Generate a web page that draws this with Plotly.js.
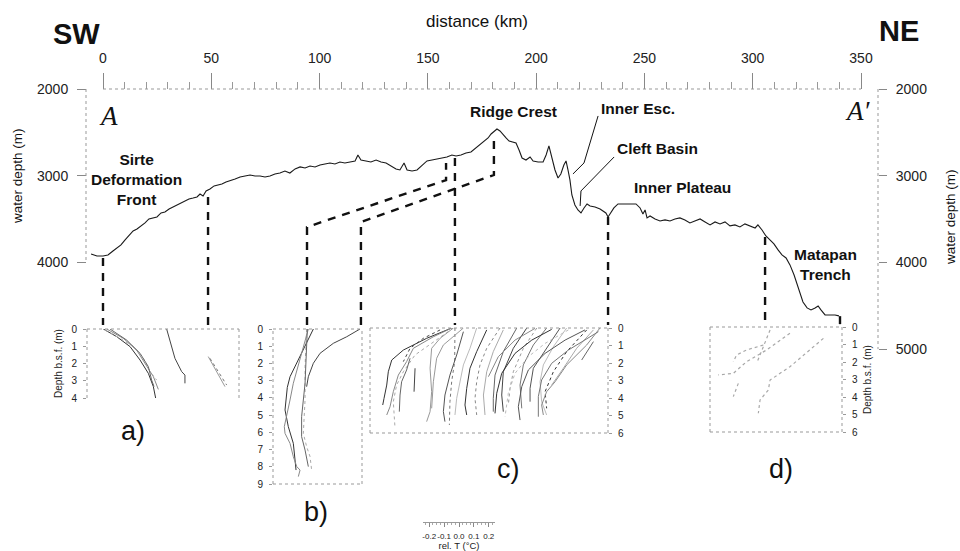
<!DOCTYPE html>
<html><head><meta charset="utf-8">
<script src="https://cdn.plot.ly/plotly-3.0.1.min.js"></script>
<style>html,body{margin:0;padding:0;background:#fff}#chart{width:960px;height:551px}</style>
</head><body><div id="chart"></div>
<script>
// ================= DATA =================
// Bathymetric profile A-A' : distance (km) vs water depth (m)
const distanceKm = [
 -5.5,-2.8,0,2.3,4.6,6.5,8.3,10.2,12.0,13.9,
 15.7,17.5,19.4,21.2,23.1,24.9,26.8,28.6,30.5,32.3,
 34.2,36.0,37.9,39.7,41.6,43.4,44.8,46.2,47.6,49.4,
 51.3,53.1,54.9,56.8,58.6,61.0,63.3,65.6,67.9,70.2,
 72.5,74.8,77.1,79.4,81.7,84.0,86.3,88.7,91.0,93.3,
 95.6,97.9,100.2,102.5,104.8,107.1,109.4,111.7,114.0,116.4,
 117.7,119.1,121.4,123.7,126.1,128.4,130.7,133.0,135.3,137.1,
 139.0,140.4,142.7,145.0,147.3,149.6,151.9,154.2,156.5,158.8,
 161.1,163.0,165.3,167.6,169.9,172.2,174.1,175.9,177.8,179.2,
 180.5,181.9,183.3,184.7,186.1,187.5,188.9,190.7,192.1,193.5,
 195.3,197.2,198.6,200.9,203.2,204.6,205.9,207.3,208.7,210.1,
 211.4,212.8,213.8,214.7,215.6,216.5,217.9,219.3,220.7,222.1,
 223.5,224.9,227.2,229.5,231.3,232.2,233.2,234.5,235.9,237.8,
 240.6,243.3,246.1,248.0,249.3,250.3,251.2,252.6,254.9,257.2,
 259.5,261.8,264.1,266.4,268.7,271.0,273.4,275.7,278.0,280.3,
 282.6,284.9,287.2,289.5,291.8,294.1,296.4,298.7,301.1,302.4,
 304.3,306.1,308.0,309.8,311.7,313.5,315.4,317.2,319.1,320.5,
 321.9,323.2,325.1,326.9,328.8,330.2,331.5,333.4,335.7,338.0,
 339.8];
const waterDepthM = [
 3903,3926,3926,3914,3868,3833,3799,3741,3695,3637,
 3614,3580,3545,3499,3487,3476,3430,3418,3384,3361,
 3338,3315,3292,3268,3257,3245,3211,3234,3176,3153,
 3118,3107,3095,3072,3061,3038,3015,3003,2992,3003,
 3003,3015,3003,2980,2969,2946,2969,2922,2899,2911,
 2888,2899,2876,2865,2853,2865,2842,2853,2842,2830,
 2761,2819,2830,2842,2819,2842,2853,2888,2922,2934,
 2853,2934,2945,2934,2876,2830,2819,2807,2796,2784,
 2761,2773,2761,2738,2726,2680,2646,2611,2565,2519,
 2496,2461,2484,2530,2565,2600,2611,2623,2703,2796,
 2819,2784,2830,2842,2842,2761,2657,2796,2934,3026,
 2980,2876,2830,2934,3049,3222,3337,3395,3430,3372,
 3326,3349,3361,3384,3418,3430,3476,3430,3372,3326,
 3326,3326,3326,3372,3441,3395,3487,3464,3499,3522,
 3510,3522,3499,3487,3510,3545,3522,3499,3533,3568,
 3533,3556,3533,3579,3568,3591,3556,3579,3603,3568,
 3626,3695,3741,3787,3856,3914,3949,4029,4145,4260,
 4375,4456,4525,4548,4525,4502,4548,4606,4606,4606,
 4617];

const distanceTicks = [0,50,100,150,200,250,300,350];
const distanceMinorTicks = [10,20,30,40,60,70,80,90,110,120,130,140,160,170,180,190,210,220,230,240,260,270,280,290,310,320,330,340];
const depthTicksLeft = [2000,3000,4000];
const depthTicksRight = [2000,3000,4000,5000];

// Dashed connectors from the profile to the heat-flow insets (km, m)
const connectorKm = [
 [0,0],[48.5,48.5],[94.2,94.2,158.4,158.4],[119.1,119.1,180.5,180.5],
 [162.5,162.5],[233.2,233.2],[305.7,305.7],[340.3,340.3]];
const connectorDepthM = [
 [3949,4722],[3245,4722],[4722,3592,3050,2853],[4722,3534,2992,2554],
 [2796,4722],[3476,4722],[3707,4699],[4620,4722]];

// Feature labels
const featureLabels = ['Sirte<br>Deformation<br>Front','Ridge Crest','Inner Esc.','Cleft Basin','Inner Plateau','Matapan<br>Trench'];
const leaderKm = [[228.6,222.1,217.0],[236.0,220.7,220.3]];
const leaderDepthM = [[2311,2853,2980],[2784,3176,3349]];

// Temperature-depth profiles (rel. T in degC, depth below sea floor in m)
const panelA_T = [
 [0.114,0.207,0.301,0.371,0.429,0.464,0.480],
 [0.138,0.254,0.347,0.417,0.464,0.499],
 [0.126,0.231,0.324,0.394,0.441,0.487],
 [0.161,0.277,0.371,0.429,0.452,0.469],
 [0.557,0.580,0.615,0.662,0.685,0.685],
 [0.848,0.907,0.965],
 [0.860,0.930,0.977]];
const panelA_z = [
 [0,0.44,1.02,1.80,2.57,3.34,4.0],
 [0,0.54,1.22,2.18,2.76,3.50],
 [0.06,0.54,1.02,1.70,2.47,2.96],
 [0,0.64,1.41,2.18,2.96,3.34],
 [0,0.64,1.70,2.47,2.67,3.15],
 [1.60,2.47,3.34],
 [1.70,2.67,3.25]];

const panelB_T = [
 [0.282,0.212,0.119,0.100,0.084,0.107,0.142,0.154,0.161],
 [0.247,0.200,0.142,0.119,0.096,0.079,0.084,0.119,0.142,0.166,0.189,0.177],
 [0.235,0.224,0.224,0.212,0.235,0.259,0.270],
 [0.240,0.224,0.200,0.200,0.224,0.247],
 [0.608,0.515,0.422,0.329,0.282,0.247,0.235]];
const panelB_z = [
 [0,1.22,2.77,3.39,4.70,5.67,6.64,7.61,8.19],
 [0,1.41,3.15,4.12,5.09,5.67,6.06,6.64,7.41,7.99,8.19,8.57],
 [0,2.19,4.12,6.06,6.83,7.41,8.19],
 [0,3.15,5.09,6.25,7.03,7.99],
 [0,0.45,0.83,1.41,1.99,2.77,3.35]];

const panelC_T = [
 [0.571,0.396,0.233,0.152,0.128,0.117,0.098,0.089],
 [0.571,0.443,0.303,0.256,0.198,0.163,0.140,0.117],
 [0.583,0.466,0.315,0.233,0.186,0.163,0.175],
 [0.280,0.256,0.221,0.210,0.205],
 [0.315,0.308],
 [0.583,0.490,0.431,0.420,0.431,0.420,0.396],
 [0.594,0.592,0.571,0.559,0.555],
 [0.653,0.606,0.559,0.524,0.513,0.524],
 [0.746,0.699,0.653,0.629,0.606,0.594],
 [0.816,0.746,0.699,0.676,0.664,0.676],
 [0.909,0.816,0.769,0.746,0.734,0.746],
 [0.932,0.862,0.816,0.793,0.804],
 [1.026,0.932,0.874,0.862,0.862],
 [1.096,1.002,0.932,0.921,0.932],
 [1.166,1.072,1.002,0.979,0.967],
 [1.235,1.142,1.072,1.049,1.061],
 [1.329,1.235,1.142,1.119,1.119],
 [1.375,1.282,1.212,1.189,1.200,1.235],
 [1.515,1.375,1.282,1.224,1.235],
 [1.608,1.515,1.375,1.294,1.235,1.200,1.212],
 [1.562,1.445,1.352,1.270],
 [1.562,1.515,1.480],
 [0.490,0.373,0.280,0.233],
 [0.653,0.513,0.466,0.443,0.431],
 [1.597,1.503,1.387,1.270,1.200,1.177,1.177],
 [1.503,1.364,1.224,1.107,1.061,1.037,1.049],
 [1.387,1.224,1.107,1.014,0.967,0.944],
 [1.270,1.131,1.014,0.921,0.886,0.874],
 [1.154,1.014,0.897,0.828]];
const panelC_z = [
 [0,0.59,1.26,1.83,2.50,3.26,4.02,4.40],
 [0,0.50,1.16,1.92,2.69,3.64,4.50,4.97],
 [0,0.69,1.54,2.50,3.26,4.21,5.73],
 [1.73,2.40,3.07,3.83,4.78],
 [2.30,3.64],
 [0,0.59,1.16,2.30,3.64,4.78,5.35],
 [0,1.92,3.07,4.21,5.54],
 [0.21,1.54,2.69,3.83,4.78,5.35],
 [0,1.16,2.11,3.07,4.02,4.97],
 [0.11,1.35,2.30,3.45,4.40,4.97],
 [0,1.16,2.11,3.07,4.02,4.97],
 [0.11,1.35,2.50,3.83,4.97],
 [0,1.35,2.69,4.02,4.78],
 [0,1.16,2.50,3.83,4.78],
 [0,1.16,2.50,3.45,4.40],
 [0,0.97,2.11,3.26,4.59],
 [0,1.16,2.30,3.45,4.21],
 [0,1.07,2.11,3.07,4.21,4.97],
 [0.11,1.35,2.50,3.64,4.59],
 [0,0.97,2.11,3.07,3.64,4.40,4.97],
 [0.11,1.16,2.30,3.26],
 [0.78,1.35,1.83],
 [0.11,0.59,1.16,1.92],
 [0,0.97,1.73,3.07,4.59],
 [0.21,0.69,1.26,2.02,2.97,3.92,5.07],
 [0.11,0.69,1.45,2.40,3.35,4.50,5.26],
 [0.11,0.88,1.64,2.59,3.73,5.07],
 [0.08,0.69,1.45,2.59,3.73,4.88],
 [0.02,0.69,1.64,2.78]];

const panelD_T = [
 [0.793,0.559,0.420,0.408,0.350,0.338],
 [0.559,0.396,0.256,0.163,0.058],
 [0.373,0.256,0.186,0.163],
 [0.420,0.326],
 [0.198,0.163]];
const panelD_z = [
 [0.65,2.27,3.03,3.60,4.17,4.93],
 [0.36,1.31,1.98,2.65,2.74],
 [1.03,1.31,1.60,1.98],
 [0.17,2.08],
 [3.22,3.98]];

const scaleTicks = [-0.2,-0.1,0,0.1,0.2];
const scaleTickText = ['-0.2','-0.1','0.0','0.1','0.2'];

// ================= STYLE / LAYOUT =================
const W = 960, H = 551;
const PX = x => x / W, PY = y => 1 - y / H;
const FONT = 'Liberation Sans, Arial, sans-serif';
const NARROW = 'Liberation Sans Narrow, Arial Narrow, sans-serif';
const greys = ['#333','#888','#aaa','#666','#444','#999','#777','#555','#bbb'];

const traces = [];
traces.push({x: distanceKm, y: waterDepthM, xaxis:'x', yaxis:'y', mode:'lines',
  line:{color:'#1a1a1a', width:1.1}, hoverinfo:'skip'});
connectorKm.forEach((k,i) => traces.push({x:k, y:connectorDepthM[i], xaxis:'x', yaxis:'y', mode:'lines',
  line:{color:'#111', width:2.4, dash:'8px,7px'}, hoverinfo:'skip'}));
leaderKm.forEach((k,i) => traces.push({x:k, y:leaderDepthM[i], xaxis:'x', yaxis:'y', mode:'lines',
  line:{color:'#111', width:1}, hoverinfo:'skip'}));
// right-axis companion (same depth scale)
traces.push({x:[distanceKm[distanceKm.length-1]], y:[waterDepthM[waterDepthM.length-1]], xaxis:'x', yaxis:'y2',
  mode:'markers', marker:{opacity:0}, hoverinfo:'skip'});
// scale-bar companion (invisible, carries the rel. T axis)
traces.push({x: scaleTicks, y: scaleTicks.map(() => 0), xaxis:'x7', yaxis:'y7',
  mode:'markers', marker:{opacity:0}, hoverinfo:'skip'});

function addPanel(Ts, Zs, xa, ya, dotted){
  Ts.forEach((t,i) => traces.push({x:t, y:Zs[i], xaxis:xa, yaxis:ya, mode:'lines',
    line:{color: dotted ? '#a8a8a8' : greys[i % greys.length], width: dotted ? 1.2 : 1, dash: dotted ? 'dot' : (i%4===2?'dot':'solid')},
    hoverinfo:'skip'}));
}
addPanel(panelA_T, panelA_z, 'x3', 'y3', false);
addPanel(panelB_T, panelB_z, 'x4', 'y4', false);
addPanel(panelC_T, panelC_z, 'x5', 'y5', false);
addPanel(panelD_T, panelD_z, 'x6', 'y6', true);

const tickFont = {family: FONT, size: 14, color: '#222'};
const smallFont = {family: FONT, size: 10, color: '#222'};
const blank = {showgrid:false, zeroline:false, showticklabels:false, ticks:'', showline:false};

function insetY(domain, range, side, vals, title){
  return {domain, range, side, tickvals: vals, ticks:'outside', ticklen:3, tickcolor:'#999',
    showgrid:false, zeroline:false, showline:false, tickfont: smallFont, ticklabelstandoff: 4,
    title: title ? {text:title, font: smallFont, standoff: 6} : undefined};
}

const layout = {
  width: W, height: H, margin:{l:0,r:0,t:0,b:0}, paper_bgcolor:'#fff', plot_bgcolor:'rgba(0,0,0,0)',
  showlegend:false, hovermode:false,
  xaxis: {domain:[0,1], range:[-47.56, 395.71], anchor:'free', position: PY(89), side:'top',
    tickvals: distanceTicks, ticks:'outside', ticklen:16, tickcolor:'#888', tickwidth:1,
    minor:{tickvals: distanceMinorTicks, ticklen:7, tickcolor:'#999'},
    showgrid:false, zeroline:false, showline:false, tickfont: tickFont, ticklabelstandoff: 4},
  yaxis: {domain:[0,1], range:[7328.7, 973.5], anchor:'free', position: PX(86), side:'left',
    tickvals: depthTicksLeft, ticks:'outside', ticklen:9, tickcolor:'#888',
    showgrid:false, zeroline:false, showline:false, tickfont: tickFont, ticklabelstandoff: 6},
  yaxis2: {overlaying:'y', range:[7328.7, 973.5], anchor:'free', position: PX(878), side:'right',
    tickvals: depthTicksRight, ticks:'outside', ticklen:8, tickcolor:'#888',
    showgrid:false, zeroline:false, showline:false, tickfont: tickFont, ticklabelstandoff: 6},
  xaxis3: Object.assign({domain:[PX(87),PX(239)], range:[0,1.063], anchor:'y3'}, blank),
  yaxis3: Object.assign(insetY([PY(398),PY(329)], [4,0], 'left', [0,1,2,3,4], 'Depth b.s.f. (m)'), {anchor:'x3'}),
  xaxis4: Object.assign({domain:[PX(273),PX(362)], range:[0,0.622], anchor:'y4'}, blank),
  yaxis4: Object.assign(insetY([PY(484),PY(329)], [9,0], 'left', [0,1,2,3,4,5,6,7,8,9]), {anchor:'x4'}),
  xaxis5: Object.assign({domain:[PX(370),PX(608)], range:[0,1.664], anchor:'y5'}, blank),
  yaxis5: Object.assign(insetY([PY(433),PY(328)], [6,0], 'right', [0,1,2,3,4,5,6]), {anchor:'x5'}),
  xaxis6: Object.assign({domain:[PX(710),PX(842)], range:[0,0.923], anchor:'y6'}, blank),
  yaxis6: Object.assign(insetY([PY(432),PY(327)], [6,0], 'right', [0,1,2,3,4,5,6], 'Depth b.s.f. (m)'), {anchor:'x6'}),
  xaxis7: {domain:[PX(423),PX(495)], range:[-0.242,0.242], anchor:'y7', side:'bottom',
    tickvals: scaleTicks, ticktext: scaleTickText, tickangle:0, ticks:'outside', ticklen:4, tickcolor:'#888',
    minor:{tickmode:'linear', tick0:0, dtick:0.025, ticklen:2, tickcolor:'#aaa'},
    showline:true, linecolor:'#999', linewidth:1, showgrid:false, zeroline:false,
    tickfont:{family:NARROW, size:8, color:'#222'}, ticklabelstandoff: 2,
    title:{text:'rel. T (°C)', font:{family:FONT, size:9.5, color:'#222'}, standoff:1}},
  yaxis7: {domain:[PY(522),PY(519)], range:[-1,1], anchor:'x7', visible:false},
  shapes: [],
  annotations: []
};

const axLine = {color:'#999', width:1, dash:'dot'};
layout.shapes.push({type:'line', xref:'x', yref:'paper', x0:distanceTicks[0], x1:distanceTicks[distanceTicks.length-1], y0:PY(89), y1:PY(89), line:axLine});
layout.shapes.push({type:'line', xref:'paper', yref:'y', x0:PX(86), x1:PX(86), y0:depthTicksLeft[0], y1:depthTicksLeft[depthTicksLeft.length-1], line:axLine});
layout.shapes.push({type:'line', xref:'paper', yref:'y', x0:PX(878), x1:PX(878), y0:depthTicksRight[0], y1:depthTicksRight[depthTicksRight.length-1], line:axLine});
// inset frames
function frame(n, sides){
  const xr = 'x'+n+' domain', yr = 'y'+n+' domain';
  const seg = {top:[0,1,1,1], bottom:[0,0,1,0], left:[0,0,0,1], right:[1,0,1,1]};
  sides.forEach(s => { const q = seg[s];
    layout.shapes.push({type:'line', xref:xr, yref:yr, x0:q[0], y0:q[1], x1:q[2], y1:q[3], line:axLine}); });
}
frame(3, ['top','left','right']);
frame(4, ['top','left','right','bottom']);
frame(5, ['top','left','right','bottom']);
frame(6, ['top','left','right','bottom']);

function ann(text, x, y, size, opts){
  layout.annotations.push(Object.assign({text, x:PX(x), y:PY(y), xref:'paper', yref:'paper', showarrow:false,
    xanchor:'center', yanchor:'middle', font:{family:FONT, size, color:'#111'}}, opts||{}));
}
ann('<b>SW</b>', 76, 34, 29);
ann('<b>NE</b>', 899, 31, 29);
ann('distance (km)', 477, 22, 17);
ann('water depth (m)', 17, 176, 13.5, {textangle:-90});
ann('water depth (m)', 951, 217, 13.5, {textangle:-90});
ann('<i>A</i>', 108, 116, 27, {font:{family:'Liberation Serif, serif', size:27, color:'#111'}});
ann('<i>A\u2032</i>', 857, 111, 27, {font:{family:'Liberation Serif, serif', size:27, color:'#111'}});
const labelPos = [[136,180],[513,112],[638,108],[657,149],[682,187],[825,264]];
featureLabels.forEach((t,i) => ann('<b>'+t+'</b>', labelPos[i][0], labelPos[i][1], 15.5));
ann('a)', 133, 431, 27); ann('b)', 316, 512, 27); ann('c)', 508, 469, 27); ann('d)', 781, 469, 27);

Plotly.newPlot('chart', traces, layout, {staticPlot:true, displayModeBar:false});
</script></body></html>
